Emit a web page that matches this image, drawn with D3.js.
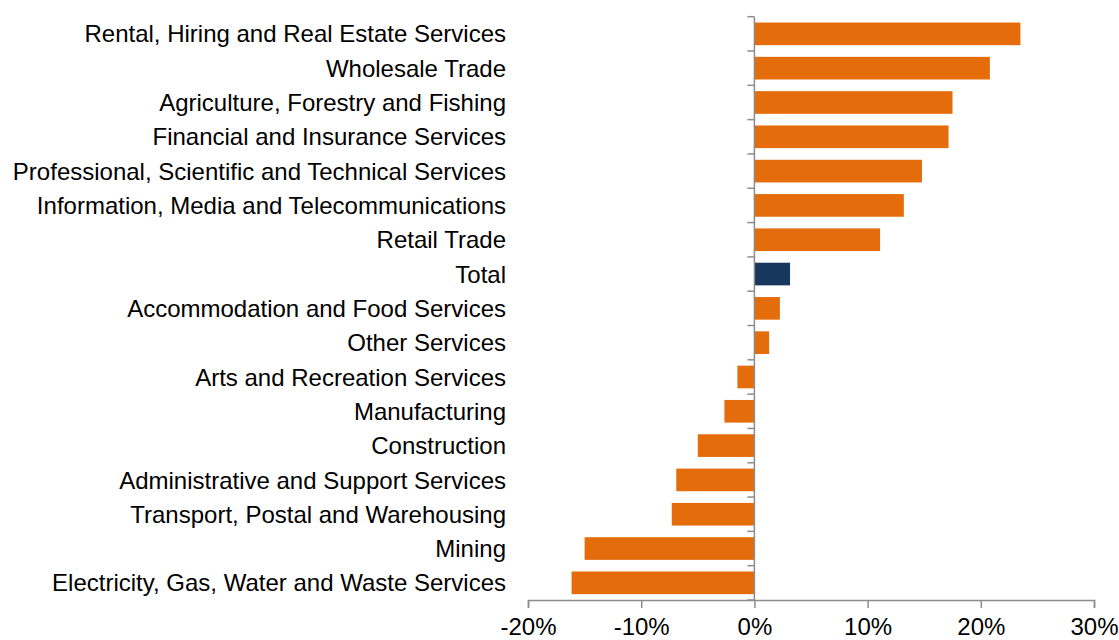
<!DOCTYPE html>
<html>
<head>
<meta charset="utf-8">
<script src="https://cdn.jsdelivr.net/npm/d3@7"></script>
<style>
  html, body { margin: 0; padding: 0; background: #fff; }
  svg { display: block; font-family: "Liberation Sans", Arial, sans-serif; }
</style>
</head>
<body>
<svg id="chart" width="1119" height="640"></svg>
<script>
// Industry names, top to bottom
const industries = [
  "Rental, Hiring and Real Estate Services",
  "Wholesale Trade",
  "Agriculture, Forestry and Fishing",
  "Financial and Insurance Services",
  "Professional, Scientific and Technical Services",
  "Information, Media and Telecommunications",
  "Retail Trade",
  "Total",
  "Accommodation and Food Services",
  "Other Services",
  "Arts and Recreation Services",
  "Manufacturing",
  "Construction",
  "Administrative and Support Services",
  "Transport, Postal and Warehousing",
  "Mining",
  "Electricity, Gas, Water and Waste Services"
];

// Percentage change by industry
const changes = [23.5, 20.8, 17.5, 17.15, 14.8, 13.2, 11.1, 3.15, 2.25, 1.3,
                 -1.5, -2.65, -5.0, -6.9, -7.3, -15.0, -16.15];

// Bottom axis ticks
const xTicks = [-20, -10, 0, 10, 20, 30];

const fontSize = 24;
const svg = d3.select("#chart");
const x = d3.scaleLinear().domain([-20, 30]).range([528, 1094]);
const y = d3.scaleBand().domain(industries).range([16.7, 600]).paddingInner(0.34).paddingOuter(0.17);

const axisColor = "#8c8c8c";

// Bars
svg.append("g").selectAll("rect")
  .data(industries)
  .join("rect")
  .attr("x", (d, i) => x(Math.min(0, changes[i])))
  .attr("width", (d, i) => Math.abs(x(changes[i]) - x(0)))
  .attr("y", d => y(d))
  .attr("height", y.bandwidth())
  .attr("fill", d => d === "Total" ? "#17375E" : "#E46C0A");

// Bottom axis
const xAxis = svg.append("g")
  .attr("transform", "translate(0,600)")
  .call(d3.axisBottom(x).tickValues(xTicks).tickFormat(d => d + "%").tickSizeOuter(0).tickSize(8).tickPadding(10));
xAxis.select(".domain").attr("stroke", axisColor).attr("stroke-width", 1.5);
xAxis.selectAll(".tick line").attr("stroke", axisColor).attr("stroke-width", 1.5);
xAxis.selectAll("text").attr("font-size", fontSize).attr("fill", "#000")
  .attr("font-family", "'Liberation Sans', Arial, sans-serif");

// Vertical zero axis with category boundary ticks
const bounds = d3.range(industries.length + 1).map(i => 16.7 + i * (600 - 16.7) / industries.length);
const zAxis = svg.append("g");
zAxis.append("line")
  .attr("x1", x(0)).attr("x2", x(0))
  .attr("y1", bounds[0]).attr("y2", 600)
  .attr("stroke", axisColor).attr("stroke-width", 1.5);
zAxis.selectAll("line.tk")
  .data(bounds)
  .join("line")
  .attr("class", "tk")
  .attr("x1", x(0) - 7).attr("x2", x(0))
  .attr("y1", d => d).attr("y2", d => d)
  .attr("stroke", axisColor).attr("stroke-width", 1.5);

// Category labels
svg.append("g").selectAll("text")
  .data(industries)
  .join("text")
  .attr("x", 506)
  .attr("y", d => y(d) + y.bandwidth() / 2)
  .attr("dy", "0.36em")
  .attr("text-anchor", "end")
  .attr("font-size", fontSize)
  .attr("fill", "#000")
  .text(d => d);
</script>
</body>
</html>
